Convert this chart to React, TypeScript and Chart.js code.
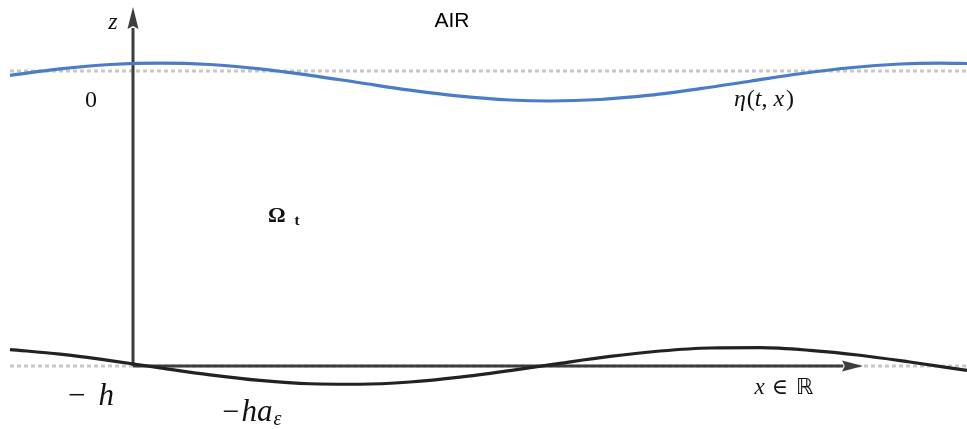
import React, { useEffect, useRef } from "react";
import { Chart, registerables } from "chart.js";

Chart.register(...registerables);

// Free surface eta(t,x): horizontal position x and elevation z (z = 0 is rest level, -h = -3)
const surfaceX = [-1.23, -0.73, -0.23, 0.27, 0.77, 1.27, 1.77, 2.27, 2.77, 3.27, 3.77, 4.17, 4.67, 5.17, 5.67, 6.17, 6.67, 7.17, 7.67, 8.07, 8.34];
const surfaceZ = [-0.044, 0.022, 0.066, 0.081, 0.066, 0.022, -0.044, -0.12, -0.195, -0.256, -0.295, -0.305, -0.29, -0.246, -0.18, -0.104, -0.028, 0.033, 0.071, 0.081, 0.076];

// Bottom -h a_eps
const bottomX = [-1.23, -0.73, -0.23, 0.27, 0.77, 1.27, 1.77, 2.27, 2.77, 3.27, 3.77, 4.27, 4.77, 5.27, 5.77, 6.27, 6.77, 7.27, 7.77, 8.34];
const bottomZ = [-2.833, -2.88, -2.945, -3.019, -3.09, -3.147, -3.181, -3.186, -3.163, -3.114, -3.047, -2.973, -2.903, -2.848, -2.817, -2.814, -2.841, -2.891, -2.96, -3.045];

// Rest levels (dotted): z = 0 and z = -h
const restX = [-1.23, 8.34];
const restLevels = [0, -3];

// Axes
const zAxisRange = [-3, 0.437];
const zAxisTip = 0.651;
const xAxisRange = [0, 7.1];
const xAxisTip = 7.3;

const xMin = -1.33;
const xMax = 8.34;
const zMin = -3.641;
const zMax = 0.722;

const AXIS_COLOR = "#3d3d3d";
const SERIF = '"Liberation Serif", "DejaVu Serif", serif';

type Seg = { t: string; f: string; dy?: number; dx?: number };

function drawRich(ctx: CanvasRenderingContext2D, segs: Seg[], x: number, y: number, align: "center" | "left") {
  let w = 0;
  for (const s of segs) {
    ctx.font = s.f;
    w += ctx.measureText(s.t).width + (s.dx || 0);
  }
  let cx = align === "center" ? x - w / 2 : x;
  ctx.textAlign = "left";
  ctx.textBaseline = "alphabetic";
  for (const s of segs) {
    ctx.font = s.f;
    cx += s.dx || 0;
    ctx.fillText(s.t, cx, y + (s.dy || 0));
    cx += ctx.measureText(s.t).width;
  }
}

const annotPlugin = {
  id: "annot",
  afterDatasetsDraw(chart: any) {
    const ctx: CanvasRenderingContext2D = chart.ctx;
    const xs = chart.scales.x;
    const ys = chart.scales.y;
    const X = (v: number) => xs.getPixelForValue(v);
    const Y = (v: number) => ys.getPixelForValue(v);
    ctx.save();
    // arrowheads
    ctx.fillStyle = AXIS_COLOR;
    const vx = X(0);
    const vTip = Y(zAxisTip);
    const vBase = Y(zAxisRange[1]);
    ctx.beginPath();
    ctx.moveTo(vx, vTip);
    ctx.lineTo(vx + 5.5, vBase + 1);
    ctx.lineTo(vx, vBase - 2);
    ctx.lineTo(vx - 5.5, vBase + 1);
    ctx.closePath();
    ctx.fill();
    const hy = Y(-3);
    const hTip = X(xAxisTip);
    const hBase = X(xAxisRange[1]);
    ctx.beginPath();
    ctx.moveTo(hTip, hy);
    ctx.lineTo(hBase - 1, hy - 5.5);
    ctx.lineTo(hBase + 2, hy);
    ctx.lineTo(hBase - 1, hy + 5.5);
    ctx.closePath();
    ctx.fill();

    // texts
    ctx.fillStyle = "#111";
    drawRich(ctx, [{ t: "z", f: `italic 24px ${SERIF}` }], X(-0.2), Y(0.427), "center");
    ctx.fillStyle = "#000";
    drawRich(ctx, [{ t: "AIR", f: `21px "Liberation Sans", Arial, sans-serif` }], X(3.19), Y(0.447), "center");
    ctx.fillStyle = "#111";
    drawRich(ctx, [{ t: "0", f: `24px ${SERIF}` }], X(-0.42), Y(-0.366), "center");
    drawRich(
      ctx,
      [
        { t: "η", f: `italic 24px ${SERIF}` },
        { t: "(", f: `24px ${SERIF}`, dx: 1 },
        { t: "t", f: `italic 24px ${SERIF}` },
        { t: ",", f: `24px ${SERIF}` },
        { t: "x", f: `italic 24px ${SERIF}`, dx: 6 },
        { t: ")", f: `24px ${SERIF}`, dx: 2 },
      ],
      X(6.31),
      Y(-0.356),
      "center"
    );
    drawRich(
      ctx,
      [
        { t: "Ω", f: `bold 22px ${SERIF}` },
        { t: "t", f: `bold 15px ${SERIF}`, dx: 9, dy: 3 },
      ],
      X(1.35),
      Y(-1.536),
      "left"
    );
    drawRich(
      ctx,
      [
        { t: "−", f: `31px ${SERIF}` },
        { t: "h", f: `italic 31px ${SERIF}`, dx: 13 },
      ],
      X(-0.42),
      Y(-3.397),
      "center"
    );
    drawRich(
      ctx,
      [
        { t: "−", f: `30px ${SERIF}` },
        { t: "ha", f: `italic 31px ${SERIF}`, dx: 2 },
        { t: "ε", f: `italic 20px ${SERIF}`, dx: 1, dy: 4 },
      ],
      X(1.19),
      Y(-3.559),
      "center"
    );
    drawRich(
      ctx,
      [
        { t: "x", f: `italic 23px ${SERIF}` },
        { t: "∈", f: `22px "DejaVu Serif", serif`, dx: 7 },
        { t: "ℝ", f: `22px "DejaVu Sans", sans-serif`, dx: 8 },
      ],
      X(6.51),
      Y(-3.285),
      "center"
    );
    ctx.restore();
  },
};

export default function App() {
  const ref = useRef<HTMLCanvasElement | null>(null);

  useEffect(() => {
    if (!ref.current) return;
    const surface = surfaceX.map((x, i) => ({ x, y: surfaceZ[i] }));
    const bottom = bottomX.map((x, i) => ({ x, y: bottomZ[i] }));
    const rest = restLevels.map((lvl) => restX.map((x) => ({ x, y: lvl })));
    const chart = new Chart(ref.current, {
      type: "line",
      data: {
        datasets: [
          {
            data: surface,
            borderColor: "#4a7cc8",
            borderWidth: 3.2,
            pointRadius: 0,
            cubicInterpolationMode: "monotone",
            order: 0,
          },
          {
            data: bottom,
            borderColor: "#222222",
            borderWidth: 3.2,
            pointRadius: 0,
            cubicInterpolationMode: "monotone",
            order: 1,
          },
          {
            data: [
              { x: 0, y: zAxisRange[0] },
              { x: 0, y: zAxisRange[1] },
            ],
            borderColor: AXIS_COLOR,
            borderWidth: 3,
            pointRadius: 0,
            order: 2,
          },
          {
            data: [
              { x: xAxisRange[0], y: -3 },
              { x: xAxisRange[1], y: -3 },
            ],
            borderColor: AXIS_COLOR,
            borderWidth: 3,
            pointRadius: 0,
            order: 3,
          },
          ...rest.map((pts, i) => ({
            data: pts,
            borderColor: "#c8c8c8",
            borderWidth: 3,
            borderDash: [4, 3],
            pointRadius: 0,
            order: 4 + i,
          })),
        ] as any,
      },
      options: {
        animation: false,
        responsive: false,
        devicePixelRatio: 1,
        events: [],
        layout: { padding: 0 },
        plugins: { legend: { display: false }, tooltip: { enabled: false } },
        scales: {
          x: { type: "linear", min: xMin, max: xMax, display: false },
          y: { type: "linear", min: zMin, max: zMax, display: false },
        },
      },
      plugins: [annotPlugin],
    });
    return () => chart.destroy();
  }, []);

  return (
    <div style={{ position: "fixed", left: 0, top: 0, width: 967, height: 429, background: "#fff" }}>
      <canvas ref={ref} width={967} height={429} style={{ display: "block", width: 967, height: 429 }} />
    </div>
  );
}
